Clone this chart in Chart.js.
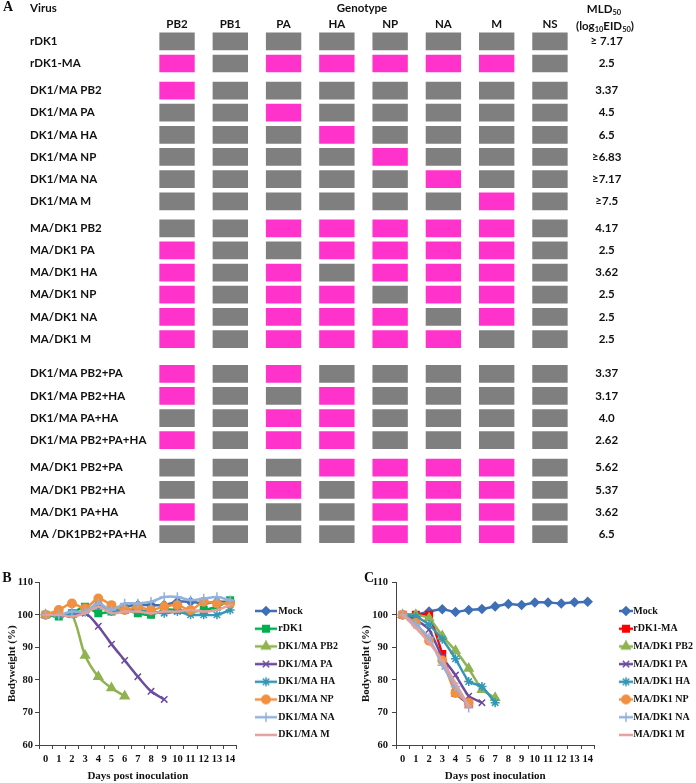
<!DOCTYPE html>
<html lang="en">
<head>
<meta charset="UTF-8" />
<title>Genotype and bodyweight of reassortant viruses</title>
<script src="https://cdn.jsdelivr.net/npm/chart.js"></script>
<style>
  body { margin: 0; background: #fff; }
  #page { position: relative; width: 696px; height: 783px; overflow: hidden; }
  #page canvas, .lbl { position: absolute; }
  .lbl { transform: translate(-50%, -50%); white-space: nowrap; color: #111; }
  .lbl.left { transform: translate(0, -50%); }
  .cal { font: bold 11.5px Lato, sans-serif; }
  .ser { font: bold 14px "Liberation Serif", serif; }
  sub { font-size: 7.5px; vertical-align: -2px; line-height: 0; }
</style>
</head>
<body>
<div id="page">
  <canvas id="genotype" width="696" height="565" style="left:0;top:0"></canvas>
  <canvas id="bodyB" width="348" height="218" style="left:0;top:565px"></canvas>
  <canvas id="bodyC" width="348" height="218" style="left:348px;top:565px"></canvas>

  <div class="lbl ser" style="left:8px;top:7px">A</div>
  <div class="lbl left cal" style="left:30px;top:7px">Virus</div>
  <div class="lbl cal" style="left:362px;top:7px">Genotype</div>
  <div class="lbl cal" style="left:604px;top:8px">MLD<sub>50</sub></div>
  <div class="lbl cal" style="left:605px;top:25px">(log<sub>10</sub>EID<sub>50</sub>)</div>
  <div class="lbl ser" style="left:7px;top:578px">B</div>
  <div class="lbl ser" style="left:369px;top:578px">C</div>
</div>
<script>
  // ---- panel A: genotypes ----
  const genes = ['PB2', 'PB1', 'PA', 'HA', 'NP', 'NA', 'M', 'NS'];
  const viruses = [
    'rDK1', 'rDK1-MA',
    'DK1/MA PB2', 'DK1/MA PA', 'DK1/MA HA', 'DK1/MA NP', 'DK1/MA NA', 'DK1/MA M',
    'MA/DK1 PB2', 'MA/DK1 PA', 'MA/DK1 HA', 'MA/DK1 NP', 'MA/DK1 NA', 'MA/DK1 M',
    'DK1/MA PB2+PA', 'DK1/MA PB2+HA', 'DK1/MA PA+HA', 'DK1/MA PB2+PA+HA',
    'MA/DK1 PB2+PA', 'MA/DK1 PB2+HA', 'MA/DK1 PA+HA', 'MA /DK1PB2+PA+HA'
  ];
  // one letter per segment in gene order: M = from rDK1-MA, D = from rDK1
  const genotypes = [
    'DDDDDDDD', 'MDMMMMMD',
    'MDDDDDDD', 'DDMDDDDD', 'DDDMDDDD', 'DDDDMDDD', 'DDDDDMDD', 'DDDDDDMD',
    'DDMMMMMD', 'MDDMMMMD', 'MDMDMMMD', 'MDMMDMMD', 'MDMMMDMD', 'MDMMMMDD',
    'MDMDDDDD', 'MDDMDDDD', 'DDMMDDDD', 'MDMMDDDD',
    'DDDMMMMD', 'DDMDMMMD', 'MDDDMMMD', 'DDDDMMMD'
  ];
  const mld50 = [
    '≥ 7.17', '2.5',
    '3.37', '4.5', '6.5', '≥6.83', '≥7.17', '≥7.5',
    '4.17', '2.5', '3.62', '2.5', '2.5', '2.5',
    '3.37', '3.17', '4.0', '2.62',
    '5.62', '5.37', '3.62', '6.5'
  ];
  const groupSizes = [2, 6, 6, 4, 4];

  // ---- panels B and C: bodyweight (%) ----
  const days = ['0', '1', '2', '3', '4', '5', '6', '7', '8', '9', '10', '11', '12', '13', '14'];

  const labelsB = ['Mock', 'rDK1', 'DK1/MA PB2', 'DK1/MA PA', 'DK1/MA HA', 'DK1/MA NP', 'DK1/MA NA', 'DK1/MA M'];
  const mockB = [100, 100, 100.5, 101, 103, 101.5, 102.5, 103, 103, 103, 104, 104, 103.5, 104, 104];
  const rdk1B = [100, 99.5, 100.5, 102.5, 100.5, 101, 101.5, 100.5, 100, 101.5, 101.5, 101, 101.5, 102.5, 104.5];
  const pb2B = [100, 100, 100, 87.5, 81, 77.5, 75];
  const paB = [100, 100, 100, 100.5, 96.5, 91, 86, 81, 76.5, 74];
  const haB = [100, 100, 100.5, 101, 103, 101, 101.5, 101.5, 101, 100.5, 101, 100, 100, 100, 101.5];
  const npB = [100, 101.5, 103.5, 102, 105, 103, 101.5, 102.5, 101.5, 102.5, 103, 101.5, 104, 103.5, 103.5];
  const naB = [100, 100, 101, 101, 103.5, 101.5, 103.5, 103.5, 104, 105.5, 105.5, 104.5, 105, 105.5, 104.5];
  const mB = [100, 100, 99.5, 100.5, 102.5, 100.5, 101, 101, 100.5, 101, 101, 101.5, 101, 101.5, 103];

  const labelsC = ['Mock', 'rDK1-MA', 'MA/DK1 PB2', 'MA/DK1 PA', 'MA/DK1 HA', 'MA/DK1 NP', 'MA/DK1 NA', 'MA/DK1 M'];
  const mockC = [100, 100, 101, 101.7, 100.9, 101.5, 101.8, 102.6, 103.3, 103, 103.8, 103.8, 103.5, 103.9, 104];
  const rdk1maC = [100, 100, 100, 88, 76, 72.5];
  const pb2C = [100, 100, 99, 93.5, 89, 83.5, 77, 74.5];
  const paC = [100, 98.5, 95.5, 87, 81.5, 75, 73];
  const haC = [100, 99.5, 97, 92.5, 86.5, 79.5, 78, 73];
  const npC = [100, 97.5, 92, 86, 76, 73];
  const naC = [100, 97, 93, 84.5, 78, 71.5];
  const mC = [100, 96, 91.5, 86, 79, 72];

  // ---- styles ----
  const GREY = '#7f7f7f';
  const MAGENTA = '#ff33cc';
  const TEXT = '#111';
  const AXIS = '#444';
  const calibri = { family: 'Lato, sans-serif', size: 11.5, weight: 'bold' };
  const times = { family: '"Liberation Serif", serif', size: 10.5, weight: 'bold' };
  const timesLegend = { family: '"Liberation Serif", serif', size: 10, weight: 'bold' };
  const timesTitle = { family: '"Liberation Serif", serif', size: 11, weight: 'bold' };
  const groupGap = [0.22, 0.22, 0.57, 0.24];

  const colorsB = ['#3f6fb6', '#00b050', '#8fb350', '#6b4c9e', '#3397b5', '#f09040', '#92b2dc', '#e2a09e'];
  const colorsC = ['#3f6fb6', '#ff0000', '#8fb350', '#6b4c9e', '#3397b5', '#f09040', '#92b2dc', '#e2a09e'];
  const markers = [
    { pointStyle: 'rectRot', radius: 4.2 },
    { pointStyle: 'rect', radius: 4.6 },
    { pointStyle: 'triangle', radius: 5 },
    { pointStyle: 'crossRot', radius: 4.5 },
    { pointStyle: 'star', radius: 4.5 },
    { pointStyle: 'circle', radius: 4.2 },
    { pointStyle: 'cross', radius: 4.8 },
    { pointStyle: 'line', radius: 3 }
  ];

  // row positions on the y axis, with a small gap between groups
  const rowPos = [];
  let pos = 0;
  groupSizes.forEach((n, g) => {
    for (let i = 0; i < n; i++) { rowPos.push(pos); pos += 1; }
    pos += groupGap[g] || 0;
  });
  const yMin = -0.45;
  const yMax = rowPos[rowPos.length - 1] + 0.45;

  const rowAxis = (side, labels, width, ticks) => ({
    type: 'linear', axis: 'y', position: side, reverse: true, min: yMin, max: yMax,
    grid: { display: false, drawTicks: false }, border: { display: false },
    afterBuildTicks: (s) => { s.ticks = rowPos.map((v) => ({ value: v })); },
    afterFit: (s) => { s.width = width; },
    ticks: Object.assign({ autoSkip: false, font: calibri, color: TEXT, callback: (v, i) => labels[i] }, ticks)
  });

  new Chart(document.getElementById('genotype'), {
    type: 'bar',
    data: {
      labels: genes,
      datasets: viruses.map((v, r) => ({
        label: v,
        data: genes.map(() => [rowPos[r] - 0.4, rowPos[r] + 0.4]),
        backgroundColor: genotypes[r].split('').map((c) => (c === 'M' ? MAGENTA : GREY)),
        borderWidth: 0,
        grouped: false,
        barPercentage: 0.83
      }))
    },
    options: {
      responsive: false,
      animation: false,
      devicePixelRatio: 1,
      layout: { padding: { left: 30, top: 15, right: 0, bottom: 5 } },
      plugins: { legend: { display: false }, tooltip: { enabled: false } },
      scales: {
        x: {
          position: 'top',
          grid: { display: false, drawTicks: false },
          border: { display: false },
          ticks: { font: calibri, color: TEXT, padding: 0 },
          afterFit: (s) => { s.height = 16.4; }
        },
        y: rowAxis('left', viruses, 120.4, { crossAlign: 'far', padding: 0 }),
        mld: rowAxis('right', mld50, 119.4, { crossAlign: 'center', padding: 14 })
      }
    }
  });

  // small line + marker picture for the legend
  function glyph(color, marker, width) {
    const c = document.createElement('canvas');
    c.width = width;
    c.height = 12;
    const ctx = c.getContext('2d');
    ctx.strokeStyle = color;
    ctx.fillStyle = color;
    ctx.lineWidth = 2.5;
    ctx.beginPath();
    ctx.moveTo(0, 6);
    ctx.lineTo(width, 6);
    ctx.stroke();
    ctx.lineWidth = 1.5;
    Chart.helpers.drawPoint(ctx, { pointStyle: marker.pointStyle, radius: marker.radius, rotation: 0, borderWidth: 1.5 }, width / 2, 6);
    return c;
  }

  function bodyweightChart(id, labels, series, colors, geo) {
    const glyphs = colors.map((c, i) => glyph(c, markers[i], geo.glyphWidth));
    return new Chart(document.getElementById(id), {
      type: 'line',
      data: {
        labels: days,
        datasets: series.map((data, i) => ({
          label: labels[i],
          data: data,
          borderColor: colors[i],
          backgroundColor: colors[i],
          borderWidth: 2.5,
          pointStyle: markers[i].pointStyle,
          pointRadius: markers[i].radius,
          pointBorderWidth: 1.5,
          tension: geo.tension,
          order: -i,
          clip: false
        }))
      },
      options: {
        responsive: false,
        animation: false,
        devicePixelRatio: 1,
        layout: { padding: { left: geo.padLeft, top: 17.3, right: geo.padRight, bottom: 0 } },
        plugins: {
          tooltip: { enabled: false },
          legend: {
            position: 'right',
            align: 'start',
            maxWidth: geo.legendWidth,
            title: { display: true, text: '', font: { size: 10, lineHeight: 1 }, padding: { top: 6, bottom: 0 } },
            labels: {
              usePointStyle: true,
              pointStyleWidth: geo.boxWidth,
              padding: 7.7,
              font: timesLegend,
              color: TEXT,
              generateLabels: (chart) => chart.data.datasets.map((ds, i) => ({
                text: ds.label,
                pointStyle: glyphs[i],
                fillStyle: ds.borderColor,
                strokeStyle: ds.borderColor,
                fontColor: TEXT,
                lineWidth: 0,
                hidden: false,
                datasetIndex: i
              }))
            }
          }
        },
        scales: {
          x: {
            type: 'category',
            offset: true,
            grid: { offset: true, drawOnChartArea: false, tickLength: 4, color: AXIS },
            border: { color: AXIS },
            ticks: { font: times, color: TEXT, padding: 4, autoSkip: false, maxRotation: 0 },
            title: { display: true, text: 'Days post inoculation', font: timesTitle, color: TEXT, padding: { top: 0, bottom: 0 } },
            afterFit: (s) => { s.height = 38; }
          },
          y: {
            min: 60,
            max: 110,
            grid: { drawOnChartArea: false, tickLength: 4, color: AXIS },
            border: { color: AXIS },
            ticks: { stepSize: 10, font: times, color: TEXT, padding: geo.tickPad },
            title: { display: true, text: 'Bodyweight (%)', font: timesTitle, color: TEXT, padding: { top: 0, bottom: 0 } },
            afterFit: (s) => { s.width = geo.axisWidth; }
          },
          gap: {
            type: 'linear', axis: 'y', position: 'right',
            grid: { display: false, drawTicks: false }, border: { display: false },
            ticks: { display: false },
            afterFit: (s) => { s.width = geo.gapWidth; }
          }
        }
      }
    });
  }

  bodyweightChart('bodyB', labelsB, [mockB, rdk1B, pb2B, paB, haB, npB, naB, mB], colorsB, {
    padLeft: 5.4, axisWidth: 33.6, tickPad: 2, padRight: 5, legendWidth: 92,
    gapWidth: 14.3, boxWidth: 14.6, glyphWidth: 22, tension: 0.3
  });
  bodyweightChart('bodyC', labelsC, [mockC, rdk1maC, pb2C, paC, haC, npC, naC, mC], colorsC, {
    padLeft: 11.4, axisWidth: 36.6, tickPad: 4, padRight: 0, legendWidth: 80,
    gapWidth: 21.7, boxWidth: 4.6, glyphWidth: 14, tension: 0.15
  });
</script>
</body>
</html>
